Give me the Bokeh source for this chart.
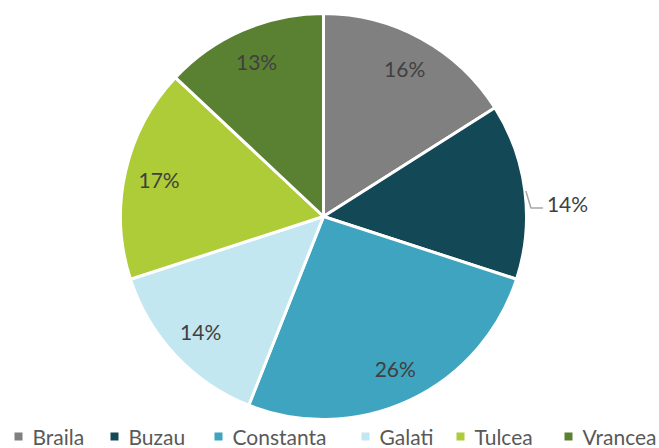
import math
from bokeh.plotting import figure
from bokeh.models import Range1d, ColumnDataSource
from bokeh.core.properties import value
from bokeh.embed import file_html
from bokeh.resources import INLINE

# ---- data ----
categories = ["Braila", "Buzau", "Constanta", "Galati", "Tulcea", "Vrancea"]
shares = [16, 14, 26, 14, 17, 13]
colors = ["#808080", "#134857", "#3FA4C0", "#C3E7F0", "#AECB38", "#5A8032"]
labels = ["16%", "14%", "26%", "14%", "17%", "13%"]

# ---- layout (pixels) ----
W, H = 659, 448
CX, CY = 323, 232          # pie centre in plot units (1 unit = 1 px, y up)
R = 203
LABEL_R = 0.83
legend_x = [14, 110, 214, 361, 456, 564]

p = figure(width=W, height=H, output_backend="svg", toolbar_location=None,
           x_range=Range1d(0, W), y_range=Range1d(0, H),
           min_border=0, outline_line_color=None)
p.axis.visible = False
p.grid.visible = False
p.background_fill_color = "white"
p.border_fill_color = "white"

total = float(sum(shares))
starts, ends, mids = [], [], []
cum = 0.0
for s in shares:
    a0 = math.pi / 2 - 2 * math.pi * cum / total
    cum += s
    a1 = math.pi / 2 - 2 * math.pi * cum / total
    starts.append(a0)
    ends.append(a1)
    mids.append((a0 + a1) / 2)

src = ColumnDataSource(dict(start=starts, end=ends, color=colors))
p.wedge(x=CX, y=CY, radius=R, start_angle="start", end_angle="end",
        direction="clock", fill_color="color", line_color="white",
        line_width=3, source=src)

# labels
in_x, in_y, in_t = [], [], []
for i, (m, t) in enumerate(zip(mids, labels)):
    if i == 1:
        ex = CX + R * math.cos(m)
        ey = CY + R * math.sin(m)
        p.line([ex + 1, ex + 6, ex + 18], [ey, ey - 17, ey - 17],
               line_color="#A6A6A6", line_width=1.5)
        p.text([ex + 22], [ey - 12], text=[t], text_font=value("Lato"),
               text_font_size="21px", text_color="#404040",
               text_align="left", text_baseline="middle")
    else:
        in_x.append(CX + LABEL_R * R * math.cos(m))
        in_y.append(CY + LABEL_R * R * math.sin(m))
        in_t.append(t)
p.text(in_x, in_y, text=in_t, text_font=value("Lato"), text_font_size="21px",
       text_color="#404040", text_align="center", text_baseline="middle")

# legend
p.rect([x + 4 for x in legend_x], [12] * len(legend_x), width=8, height=8,
       fill_color=colors, line_color=None)
p.text([x + 18 for x in legend_x], [12] * len(legend_x), text=categories,
       text_font=value("Lato"), text_font_size="21px", text_color="#595959",
       text_align="left", text_baseline="middle")

open("out.html", "w").write(file_html(p, INLINE))
